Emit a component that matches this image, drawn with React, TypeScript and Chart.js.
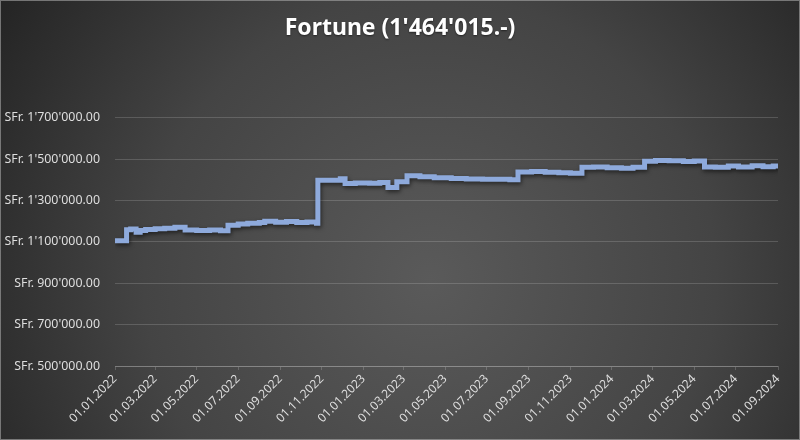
import React, { useEffect, useRef } from "react";
import { Chart, registerables } from "chart.js";

Chart.register(...registerables);

const titleText = "Fortune (1'464'015.-)";

const tickLabels = [
  "01.01.2022", "01.03.2022", "01.05.2022", "01.07.2022", "01.09.2022", "01.11.2022",
  "01.01.2023", "01.03.2023", "01.05.2023", "01.07.2023", "01.09.2023", "01.11.2023",
  "01.01.2024", "01.03.2024", "01.05.2024", "01.07.2024", "01.09.2024",
];

const yTickValues = [500000, 700000, 900000, 1100000, 1300000, 1500000, 1700000];

const dates = [
  "2022-01-01", "2022-01-18", "2022-01-24", "2022-02-01", "2022-02-07", "2022-02-15",
  "2022-03-01", "2022-03-15", "2022-03-30", "2022-04-14", "2022-05-01", "2022-05-20",
  "2022-06-05", "2022-06-16", "2022-07-01", "2022-07-15", "2022-08-01", "2022-08-09",
  "2022-08-25", "2022-09-10", "2022-09-25", "2022-10-10", "2022-10-24", "2022-10-26",
  "2022-11-15", "2022-11-28", "2022-12-05", "2022-12-20", "2023-01-10", "2023-01-25",
  "2023-02-06", "2023-02-19", "2023-03-06", "2023-03-25", "2023-04-15", "2023-05-10",
  "2023-06-01", "2023-06-25", "2023-07-15", "2023-08-04", "2023-08-16", "2023-09-05",
  "2023-09-25", "2023-10-15", "2023-11-01", "2023-11-18", "2023-12-05", "2023-12-25",
  "2024-01-15", "2024-02-01", "2024-02-18", "2024-03-05", "2024-03-25", "2024-04-15",
  "2024-05-01", "2024-05-16", "2024-06-01", "2024-06-20", "2024-07-05", "2024-07-25",
  "2024-08-10", "2024-08-25", "2024-09-01",
];

const fortune = [
  1105000, 1158000, 1162000, 1146000, 1155000, 1160000,
  1163000, 1166000, 1170000, 1157000, 1155000, 1157000,
  1154000, 1180000, 1186000, 1190000, 1194000, 1199000,
  1195000, 1198000, 1194000, 1196000, 1190000, 1398000,
  1398000, 1405000, 1382000, 1384000, 1383000, 1387000,
  1363000, 1390000, 1420000, 1414000, 1410000, 1406000,
  1404000, 1402000, 1403000, 1400000, 1438000, 1440000,
  1436000, 1434000, 1432000, 1460000, 1462000, 1458000,
  1456000, 1460000, 1490000, 1493000, 1492000, 1488000,
  1491000, 1462000, 1460000, 1466000, 1462000, 1468000,
  1463000, 1466000, 1464015,
];

const DAY = 86400000;
const BASE = Date.UTC(2022, 0, 1);
const isoToDay = (s: string) => {
  const [y, m, d] = s.split("-").map(Number);
  return Math.round((Date.UTC(y, m - 1, d) - BASE) / DAY);
};
const labelToDay = (s: string) => {
  const [d, m, y] = s.split(".").map(Number);
  return Math.round((Date.UTC(y, m - 1, d) - BASE) / DAY);
};
const tickDays = tickLabels.map(labelToDay);

const fmtCHF = (v: number) => {
  const s = Math.round(v).toString().replace(/\B(?=(\d{3})+(?!\d))/g, "'");
  return "SFr. " + s + ".00";
};

const bgPlugin = {
  id: "bg",
  beforeDraw(chart: any) {
    const { ctx, width, height } = chart;
    ctx.save();
    const g = ctx.createRadialGradient(430, 280, 0, 430, 280, 520);
    g.addColorStop(0, "#5a5a5a");
    g.addColorStop(0.55, "#444444");
    g.addColorStop(1, "#232323");
    ctx.fillStyle = g;
    ctx.fillRect(0, 0, width, height);
    ctx.fillStyle = "#ffffff";
    ctx.font = "bold 23px 'Noto Sans'";
    ctx.textAlign = "center";
    ctx.textBaseline = "middle";
    ctx.shadowColor = "rgba(0,0,0,0.5)";
    ctx.shadowBlur = 2;
    ctx.shadowOffsetY = 1;
    ctx.fillText(titleText, width / 2, 28);
    ctx.restore();
  },
  afterDraw(chart: any) {
    const { ctx, width, height } = chart;
    ctx.save();
    ctx.strokeStyle = "rgba(170,170,170,0.6)";
    ctx.lineWidth = 1;
    ctx.strokeRect(0.5, 0.5, width - 1, height - 1);
    ctx.restore();
  },
  beforeDatasetsDraw(chart: any) {
    const ctx = chart.ctx;
    ctx.save();
    ctx.shadowColor = "rgba(0,0,0,0.55)";
    ctx.shadowBlur = 4;
    ctx.shadowOffsetX = 1;
    ctx.shadowOffsetY = 2;
  },
  afterDatasetsDraw(chart: any) {
    chart.ctx.restore();
  },
};

export default function App() {
  const ref = useRef<HTMLCanvasElement | null>(null);
  useEffect(() => {
    document.body.style.margin = "0";
    const canvas = ref.current!;
    const chart = new Chart(canvas, {
      type: "line",
      data: {
        datasets: [
          {
            label: "Fortune",
            data: dates.map((d, i) => ({ x: isoToDay(d), y: fortune[i] })),
            borderColor: "#8eaadc",
            borderWidth: 5,
            pointRadius: 0,
            stepped: true,
            fill: false,
          },
        ],
      },
      options: {
        animation: false,
        responsive: false,
        maintainAspectRatio: false,
        layout: { padding: { left: 0, right: 22, top: 97, bottom: 0 } },
        plugins: {
          legend: { display: false },
          tooltip: { enabled: false },
          title: { display: false },
        },
        scales: {
          x: {
            type: "linear",
            min: tickDays[0],
            max: tickDays[tickDays.length - 1],
            afterBuildTicks(scale: any) {
              scale.ticks = tickDays.map((v) => ({ value: v }));
            },
            afterFit(scale: any) {
              scale.height = 74;
            },
            ticks: {
              autoSkip: false,
              minRotation: 45,
              maxRotation: 45,
              color: "#dedede",
              font: { family: "'Noto Sans'", size: 12 },
              padding: 2,
              callback: (v: any) => {
                const i = tickDays.indexOf(Number(v));
                return i >= 0 ? tickLabels[i] : "";
              },
            },
            grid: {
              drawOnChartArea: false,
              drawTicks: true,
              tickLength: 4,
              color: "rgba(255,255,255,0.18)",
            },
            border: { display: true, color: "rgba(255,255,255,0.2)", width: 1 },
          },
          y: {
            type: "linear",
            min: 500000,
            max: 1800000,
            afterBuildTicks(scale: any) {
              scale.ticks = yTickValues.map((v) => ({ value: v }));
            },
            afterFit(scale: any) {
              scale.width = 115;
            },
            ticks: {
              color: "#dedede",
              font: { family: "'Noto Sans'", size: 12.4 },
              padding: 15,
              callback: (v: any) => fmtCHF(Number(v)),
            },
            grid: {
              drawTicks: false,
              color: "rgba(255,255,255,0.16)",
              lineWidth: 1,
            },
            border: { display: false },
          },
        },
      },
      plugins: [bgPlugin],
    } as any);
    return () => chart.destroy();
  }, []);
  return (
    <div style={{ width: 800, height: 440 }}>
      <canvas ref={ref} width={800} height={440} style={{ display: "block" }} />
    </div>
  );
}
